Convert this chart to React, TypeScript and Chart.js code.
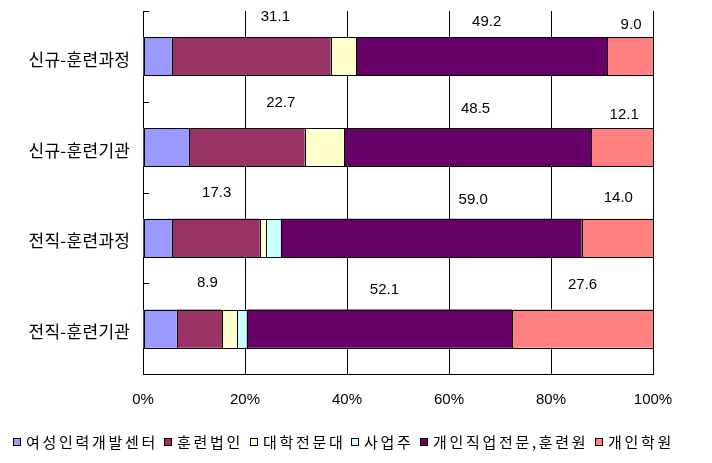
import React, { useEffect, useRef } from 'react';
import { Chart, registerables } from 'chart.js';

Chart.register(...registerables);

// ---- data ----
const categories = ['신규-훈련과정', '신규-훈련기관', '전직-훈련과정', '전직-훈련기관'];
const seriesNames = ['여성인력개발센터', '훈련법인', '대학전문대', '사업주', '개인직업전문,훈련원', '개인학원'];
const womenCenter = [5.7, 9.0, 5.6, 6.6];
const trainingCorp = [31.1, 22.7, 17.3, 8.9];
const college = [5.0, 7.7, 1.3, 2.9];
const employer = [0, 0, 2.8, 1.9];
const privateVocational = [49.2, 48.5, 59.0, 52.1];
const privateAcademy = [9.0, 12.1, 14.0, 27.6];
const xTickValues = [0, 20, 40, 60, 80, 100];

// ---- styles ----
const COLORS = ['#9999FF', '#993366', '#FFFFCC', '#CCFFFF', '#660066', '#FF8080'];
const LABELED_SERIES = [1, 4, 5];
// per row, per labeled series: [dx, dy] relative to segment centre / band centre
const LABEL_NUDGE = [
  [[24, -40], [5, -35], [1, -32]],
  [[34, -44.5], [8, -38], [2, -32]],
  [[1, -45], [42, -38.5], [1, -40]],
  [[8, -46], [5, -39], [0, -44]],
];
const CAT_FONT = '17px "Noto Sans CJK KR"';
const CAT_SPACING = 0.3;
const LEG_FONT = '15px "Noto Sans CJK KR"';
const LEG_SPACING = 2.7;
const NUM_FONT = '15px "Liberation Sans", Arial, sans-serif';

const allSeries = [womenCenter, trainingCorp, college, employer, privateVocational, privateAcademy];

const decorPlugin = {
  id: 'decor',
  afterDatasetsDraw(chart: any) {
    const ctx: CanvasRenderingContext2D = chart.ctx;
    const area = chart.chartArea;
    const yScale = chart.scales.y;
    const n = categories.length;
    const band = (area.bottom - area.top) / n;
    ctx.save();
    ctx.strokeStyle = '#000';
    ctx.lineWidth = 1;
    // bar outlines
    chart.data.datasets.forEach((_ds: any, i: number) => {
      const meta = chart.getDatasetMeta(i);
      meta.data.forEach((el: any) => {
        const p = el.getProps(['x', 'y', 'base', 'height'], true);
        const l = Math.round(Math.min(p.x, p.base));
        const r = Math.round(Math.max(p.x, p.base));
        if (r - l < 1) return;
        const t = Math.round(p.y - p.height / 2);
        const b = Math.round(p.y + p.height / 2);
        ctx.strokeRect(l + 0.5, t + 0.5, r - l, b - t);
      });
    });
    // inside tick marks on the category axis
    const ax = Math.round(area.left);
    for (let i = 0; i < n; i++) {
      const y = Math.round(yScale.getPixelForValue(i) - band / 2) + 0.5;
      ctx.beginPath();
      ctx.moveTo(ax, y);
      ctx.lineTo(ax + 6, y);
      ctx.stroke();
    }
    // data labels
    ctx.fillStyle = '#000';
    ctx.font = NUM_FONT;
    ctx.textAlign = 'center';
    ctx.textBaseline = 'middle';
    for (let r = 0; r < n; r++) {
      LABELED_SERIES.forEach((s, k) => {
        const el = chart.getDatasetMeta(s).data[r];
        const p = el.getProps(['x', 'y', 'base'], true);
        const [dx, dy] = LABEL_NUDGE[r][k];
        ctx.fillText(allSeries[s][r].toFixed(1), (p.x + p.base) / 2 + dx, p.y + dy);
      });
    }
    // category labels
    (ctx as any).letterSpacing = CAT_SPACING + 'px';
    ctx.font = CAT_FONT;
    ctx.textAlign = 'right';
    for (let i = 0; i < n; i++) {
      ctx.fillText(categories[i], 130 + CAT_SPACING, yScale.getPixelForValue(i) + 3);
    }
    ctx.restore();
  },
  afterDraw(chart: any) {
    const ctx: CanvasRenderingContext2D = chart.ctx;
    ctx.save();
    (ctx as any).letterSpacing = LEG_SPACING + 'px';
    ctx.font = LEG_FONT;
    ctx.textBaseline = 'middle';
    ctx.textAlign = 'left';
    const box = 8, boxGap = 5, itemGap = 9;
    const widths = seriesNames.map((s) => ctx.measureText(s).width - LEG_SPACING);
    let x = 13;
    const cy = 441.5;
    seriesNames.forEach((name, i) => {
      const bx = Math.round(x);
      const by = Math.round(cy - box / 2);
      ctx.fillStyle = COLORS[i];
      ctx.fillRect(bx, by, box, box);
      ctx.strokeStyle = '#000';
      ctx.lineWidth = 1;
      ctx.strokeRect(bx + 0.5, by + 0.5, box - 1, box - 1);
      ctx.fillStyle = '#000';
      ctx.fillText(name, bx + box + boxGap, cy + 1);
      x += box + boxGap + widths[i] + itemGap;
    });
    ctx.restore();
  },
};

export default function App() {
  const ref = useRef<HTMLCanvasElement | null>(null);
  useEffect(() => {
    if (!ref.current) return;
    const chart = new Chart(ref.current, {
      type: 'bar',
      data: {
        labels: categories,
        datasets: allSeries.map((data, i) => ({
          label: seriesNames[i],
          data,
          backgroundColor: COLORS[i],
          borderWidth: 0,
          categoryPercentage: 1,
          barPercentage: 0.42,
        })),
      },
      options: {
        indexAxis: 'y',
        responsive: false,
        animation: false,
        layout: { padding: { top: 11, right: 59, bottom: 39, left: 0 } },
        plugins: { legend: { display: false }, tooltip: { enabled: false } },
        scales: {
          x: {
            type: 'linear',
            stacked: true,
            min: 0,
            max: 100,
            afterBuildTicks: (s: any) => {
              s.ticks = xTickValues.map((v) => ({ value: v }));
            },
            ticks: {
              autoSkip: false,
              maxRotation: 0,
              color: '#000',
              padding: 17,
              font: { family: '"Liberation Sans", Arial, sans-serif', size: 15 },
              callback: (v: any) => v + '%',
            },
            grid: { color: '#000', lineWidth: 1, drawTicks: false },
            border: { display: true, color: '#000', width: 1 },
            afterFit: (s: any) => {
              s.height = 50;
            },
          },
          y: {
            type: 'category',
            stacked: true,
            ticks: { display: false },
            grid: { display: false, drawTicks: false },
            border: { display: true, color: '#000', width: 1 },
            afterFit: (s: any) => {
              s.width = 143;
            },
          },
        },
      },
      plugins: [decorPlugin],
    } as any);
    return () => chart.destroy();
  }, []);
  return (
    <div style={{ position: 'absolute', left: 0, top: 0, width: 712, height: 463, background: '#fff' }}>
      <canvas ref={ref} width={712} height={463} />
    </div>
  );
}
